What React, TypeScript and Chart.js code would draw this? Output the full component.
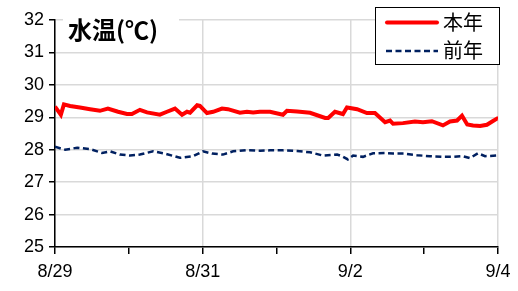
import React, { useEffect, useRef } from "react";
import { Chart, registerables } from "chart.js";
Chart.register(...registerables);

const dayLabels = ["8/29", "8/30", "8/31", "9/1", "9/2", "9/3", "9/4"];
const titleText = "水温(℃)";
const seriesNames = ["本年", "前年"];

// hours since 8/29 00:00
const thisYearHours = [0, 1.9, 2.9, 4.9, 8.1, 11.4, 14.6, 17.2, 20.5, 23.4, 25, 27.6, 29.9, 34.1, 36.4, 39, 41.3, 42.9, 43.9, 46.2, 47.1, 49.4, 51.4, 54.3, 56.2, 60.1, 62.4, 64.4, 66.6, 69.9, 74.1, 75.4, 78.7, 82.9, 87.8, 88.8, 91, 93.6, 94.9, 98.2, 101.4, 104, 107.3, 108.9, 109.9, 113.1, 117, 119.6, 122.5, 126.1, 128.4, 130.7, 132.3, 134, 135.9, 138.2, 140.4, 142.1, 143.7, 144];
const thisYearTemps = [29.33, 29.08, 29.4, 29.35, 29.3, 29.25, 29.2, 29.27, 29.17, 29.1, 29.1, 29.23, 29.15, 29.08, 29.17, 29.27, 29.08, 29.17, 29.14, 29.37, 29.35, 29.13, 29.17, 29.27, 29.25, 29.14, 29.17, 29.15, 29.17, 29.17, 29.08, 29.2, 29.18, 29.14, 28.98, 28.98, 29.17, 29.1, 29.3, 29.25, 29.13, 29.13, 28.85, 28.9, 28.8, 28.82, 28.87, 28.85, 28.88, 28.75, 28.87, 28.9, 29.05, 28.78, 28.75, 28.73, 28.77, 28.87, 28.96, 28.94];

const lastYearHours = [0, 3.3, 7.2, 11.4, 15.3, 17.9, 21.1, 24.4, 27.6, 31.9, 35.8, 40.6, 44.9, 48.1, 51.1, 54.6, 57.9, 62.4, 66.6, 69.9, 74.1, 78.7, 82.9, 87.1, 91.7, 93.3, 95.2, 96.9, 100.1, 103.4, 107.3, 109.9, 113.1, 117.7, 121.9, 126.1, 129.4, 132.6, 134.9, 137.5, 139.8, 143.7, 144];
const lastYearTemps = [28.09, 28.0, 28.06, 28.02, 27.9, 27.95, 27.85, 27.82, 27.85, 27.95, 27.88, 27.75, 27.8, 27.95, 27.88, 27.85, 27.95, 27.99, 27.97, 27.98, 27.98, 27.96, 27.92, 27.82, 27.85, 27.8, 27.7, 27.82, 27.78, 27.89, 27.9, 27.88, 27.88, 27.83, 27.8, 27.78, 27.78, 27.8, 27.74, 27.89, 27.8, 27.82, 27.8];

const RED = "#ff0000";
const NAVY = "#002060";
const LATIN = "'Liberation Sans', 'DejaVu Sans', sans-serif";
const CJK = "'Noto Sans CJK JP', sans-serif";

const overlayPlugin = {
  id: "overlay",
  afterDraw(chart: any) {
    const ctx = chart.ctx;
    ctx.save();
    // title box
    ctx.fillStyle = "#ffffff";
    ctx.fillRect(63, 13, 116, 37);
    ctx.fillStyle = "#000000";
    ctx.font = `bold 24px ${CJK}`;
    ctx.textBaseline = "middle";
    ctx.textAlign = "left";
    ctx.fillText(titleText, 68, 30);

    // legend box
    ctx.fillStyle = "#ffffff";
    ctx.fillRect(375, 7, 125, 58);
    ctx.strokeStyle = "#000000";
    ctx.lineWidth = 1;
    ctx.strokeRect(375.5, 7.5, 124, 57);

    ctx.lineCap = "round";
    ctx.strokeStyle = RED;
    ctx.lineWidth = 4;
    ctx.beginPath();
    ctx.moveTo(387, 22.5);
    ctx.lineTo(437, 22.5);
    ctx.stroke();

    ctx.lineCap = "butt";
    ctx.strokeStyle = NAVY;
    ctx.lineWidth = 2.5;
    ctx.setLineDash([6, 3.5]);
    ctx.beginPath();
    ctx.moveTo(386, 51);
    ctx.lineTo(438, 51);
    ctx.stroke();
    ctx.setLineDash([]);

    ctx.fillStyle = "#000000";
    ctx.font = `20px ${CJK}`;
    ctx.fillText(seriesNames[0], 443, 22);
    ctx.fillText(seriesNames[1], 443, 50);
    ctx.restore();
  },
};

export default function App() {
  const ref = useRef<HTMLCanvasElement>(null);
  useEffect(() => {
    if (!ref.current) return;
    const chart = new Chart(ref.current, {
      type: "line",
      data: {
        datasets: [
          {
            label: seriesNames[0],
            data: thisYearHours.map((h, i) => ({ x: h, y: thisYearTemps[i] })),
            borderColor: RED,
            borderWidth: 4,
            pointRadius: 0,
            tension: 0,
          },
          {
            label: seriesNames[1],
            data: lastYearHours.map((h, i) => ({ x: h, y: lastYearTemps[i] })),
            borderColor: NAVY,
            borderWidth: 2.5,
            borderDash: [6, 3.5],
            pointRadius: 0,
            tension: 0,
          },
        ],
      },
      options: {
        animation: false,
        responsive: false,
        layout: { padding: { left: 0, right: 20, top: 20, bottom: 0 } },
        plugins: { legend: { display: false }, tooltip: { enabled: false } },
        scales: {
          x: {
            type: "linear",
            min: 0,
            max: 144,
            afterFit: (s: any) => {
              s.height = 44;
            },
            afterBuildTicks: (s: any) => {
              s.ticks = dayLabels.map((_, i) => ({ value: i * 24 }));
            },
            ticks: {
              autoSkip: false,
              maxRotation: 0,
              padding: 7,
              color: "#000",
              font: { family: LATIN, size: 18 },
              callback: (v: any) => {
                const i = Math.round(Number(v) / 24);
                return i % 2 === 0 ? dayLabels[i] : "";
              },
            },
            grid: {
              color: (c: any) =>
                c.tick && Math.round(c.tick.value / 24) % 2 === 0 ? "#d9d9d9" : "rgba(0,0,0,0)",
              lineWidth: 1.5,
              tickColor: "#000",
              tickLength: 7,
              tickWidth: 1.5,
            },
            border: { color: "#000", width: 1.5 },
          },
          y: {
            min: 25,
            max: 32,
            afterFit: (s: any) => {
              s.width = 55;
            },
            ticks: {
              stepSize: 1,
              padding: 5,
              color: "#000",
              font: { family: LATIN, size: 18 },
            },
            grid: {
              color: "#d9d9d9",
              lineWidth: 1.5,
              tickColor: "#000",
              tickLength: 6,
              tickWidth: 1.5,
            },
            border: { color: "#000", width: 1.5 },
          },
        },
      },
      plugins: [overlayPlugin],
    });
    return () => chart.destroy();
  }, []);
  return (
    <div style={{ position: "absolute", left: 0, top: 0, width: 518, height: 291, background: "#fff" }}>
      <canvas ref={ref} width={518} height={291} />
    </div>
  );
}
